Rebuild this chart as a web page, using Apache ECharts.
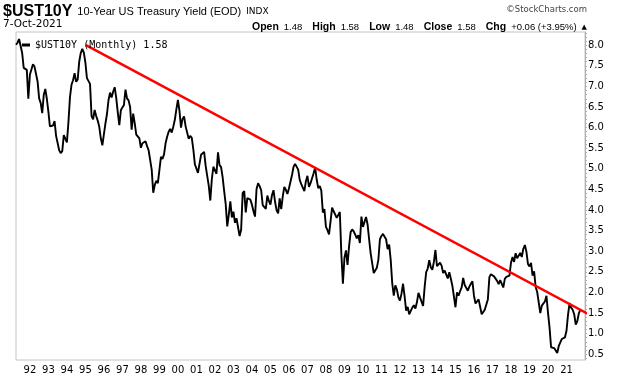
<!DOCTYPE html>
<html>
<head>
<meta charset="utf-8">
<script src="https://cdn.jsdelivr.net/npm/echarts@6/dist/echarts.min.js"></script>
<style>
  html, body { margin: 0; padding: 0; background: #fff; }
  #main { width: 620px; height: 376px; }
</style>
</head>
<body>
<div id="main"></div>
<script>
// monthly closes, 10-year yield, Apr 1991 .. Oct 2021
var startYear = 1991, startMonth = 4;
var y1991 = [8.01, 8.06, 8.15, 8.14, 7.81, 7.45, 7.46, 7.40, 6.70];
var y1992_1995 = [
    7.28, 7.26, 7.54, 7.48, 7.30, 7.12, 6.71, 6.60, 6.35, 6.79, 6.94, 6.70,
    6.39, 6.03, 6.03, 6.05, 6.16, 5.80, 5.81, 5.45, 5.38, 5.43, 5.82, 5.79,
    5.64, 6.13, 6.74, 7.04, 7.15, 7.32, 7.11, 7.17, 7.60, 7.81, 7.91, 7.82,
    7.58, 7.20, 7.20, 7.06, 6.28, 6.20, 6.43, 6.28, 6.17, 6.02, 5.74, 5.57
];
var y1996_1999 = [
    5.58, 6.10, 6.33, 6.67, 6.85, 6.73, 6.87, 6.98, 6.72, 6.37, 6.06, 6.42,
    6.49, 6.55, 6.92, 6.71, 6.66, 6.50, 5.95, 6.34, 6.10, 5.83, 5.87, 5.74,
    5.51, 5.62, 5.65, 5.67, 5.55, 5.45, 5.49, 4.98, 4.42, 4.61, 4.71, 4.65,
    4.65, 5.29, 5.24, 5.35, 5.62, 5.78, 5.90, 5.97, 5.88, 6.02, 6.19, 6.44
];
var y2000_2004 = [
    6.67, 6.41, 6.00, 6.21, 6.27, 6.03, 6.03, 5.73, 5.80, 5.75, 5.47, 5.11,
    5.11, 4.90, 4.92, 5.34, 5.38, 5.41, 5.07, 4.83, 4.59, 4.23, 4.75, 5.05,
    5.03, 4.88, 5.40, 5.09, 5.04, 4.80, 4.46, 4.14, 3.60, 3.89, 4.21, 3.82,
    3.96, 3.69, 3.80, 3.84, 3.37, 3.52, 4.41, 4.46, 3.94, 4.29, 4.33, 4.25,
    4.13, 3.97, 3.84, 4.51, 4.65, 4.58, 4.48, 4.12, 4.12, 4.03, 4.35, 4.22
];
var y2005_2009 = [
    4.13, 4.36, 4.48, 4.20, 3.99, 3.92, 4.28, 4.02, 4.33, 4.56, 4.49, 4.39,
    4.52, 4.55, 4.85, 5.05, 5.12, 5.14, 4.98, 4.73, 4.63, 4.60, 4.46, 4.70,
    4.83, 4.56, 4.65, 4.63, 4.89, 5.03, 4.74, 4.53, 4.58, 4.47, 3.94, 4.02,
    3.59, 3.51, 3.41, 3.73, 4.06, 3.97, 3.95, 3.81, 3.83, 3.95, 2.93, 2.21,
    2.84, 3.02, 2.67, 3.12, 3.46, 3.53, 3.48, 3.40, 3.31, 3.39, 3.20, 3.84
];
var y2010_2014 = [
    3.59, 3.61, 3.83, 3.65, 3.29, 2.95, 2.91, 2.47, 2.51, 2.60, 2.79, 3.29,
    3.37, 3.42, 3.45, 3.29, 3.05, 3.16, 2.79, 2.22, 1.92, 2.17, 2.07, 1.88,
    1.80, 1.97, 2.21, 1.91, 1.56, 1.65, 1.47, 1.55, 1.63, 1.69, 1.61, 1.76,
    1.99, 1.88, 1.85, 1.67, 2.13, 2.49, 2.58, 2.78, 2.61, 2.55, 2.74, 3.03,
    2.64, 2.65, 2.72, 2.65, 2.47, 2.53, 2.56, 2.34, 2.49, 2.33, 2.16, 2.17
];
var y2015_2019 = [
    1.64, 2.00, 1.92, 2.03, 2.12, 2.35, 2.18, 2.21, 2.04, 2.14, 2.21, 2.27,
    1.92, 1.73, 1.77, 1.83, 1.85, 1.47, 1.45, 1.58, 1.59, 1.83, 2.37, 2.44,
    2.45, 2.39, 2.39, 2.28, 2.20, 2.30, 2.29, 2.12, 2.33, 2.38, 2.41, 2.41,
    2.72, 2.86, 2.74, 2.95, 2.83, 2.85, 2.96, 2.86, 3.06, 3.15, 2.99, 2.69,
    2.63, 2.72, 2.41, 2.51, 2.13, 2.01, 2.02, 1.50, 1.68, 1.69, 1.78, 1.92
];
var y2020_2021 = [
    1.51, 1.15, 0.67, 0.64, 0.65, 0.66, 0.53, 0.70, 0.68, 0.87, 0.84, 0.91,
    1.07, 1.46, 1.74, 1.63, 1.58, 1.47, 1.22, 1.30, 1.49, 1.58
];

// red trend line end points (year, yield)
var trendYears = [1995.03, 2022.28];
var trendValues = [8.0, 1.45];

var yearLabels = [];
for (var yr = 1992; yr <= 2021; yr++) yearLabels.push(yr);
var yLabels = [];
for (var k = 1; k <= 16; k++) yLabels.push(k * 0.5);
var yMinor = [];
for (var k = 4; k <= 83; k++) yMinor.push(k / 10);

var allValues = [].concat(y1991, y1992_1995, y1996_1999, y2000_2004,
    y2005_2009, y2010_2014, y2015_2019, y2020_2021);
var lineData = [];
for (var i = 0; i < allValues.length; i++) {
    var m = startMonth - 1 + i;
    lineData.push([startYear + m / 12, allValues[i]]);
}
var lastVal = allValues[allValues.length - 1];

var myChart = echarts.init(document.getElementById('main'));
var option = {
    animation: false,
    backgroundColor: '#fff',
    title: [{
        left: 3, top: 3, padding: 0,
        text: '{a|$UST10Y} {b|10-Year US Treasury Yield (EOD)} {c|INDX}',
        textStyle: {
            rich: {
                a: { fontFamily: '"Liberation Sans", Arial', fontWeight: 'bold', fontSize: 16, lineHeight: 18, color: '#000' },
                b: { fontFamily: '"Liberation Sans", Arial', fontWeight: 'normal', fontSize: 11, lineHeight: 18, color: '#000' },
                c: { fontFamily: '"DejaVu Sans"', fontWeight: 'normal', fontSize: 9, lineHeight: 18, color: '#000' }
            }
        }
    }, {
        left: 3, top: 18, padding: 0,
        text: '7-Oct-2021',
        textStyle: { fontFamily: '"DejaVu Sans"', fontSize: 10.5, lineHeight: 12, fontWeight: 'normal', color: '#000' }
    }, {
        right: 33, top: 5, padding: 0,
        text: '\u00a9StockCharts.com',
        textStyle: { fontFamily: '"DejaVu Sans"', fontSize: 8.5, lineHeight: 10, fontWeight: 'normal', color: '#444' }
    }, {
        right: 33, top: 18, padding: 0,
        text: '{k|Open} {v|1.48}  {k|High} {v|1.58}  {k|Low} {v|1.48}  {k|Close} {v|1.58}  {k|Chg} {v|+0.06 (+3.95%)} {t|\u25b2}',
        textStyle: {
            rich: {
                k: { fontFamily: '"Liberation Sans"', fontWeight: 'bold', fontSize: 10.5, lineHeight: 12, color: '#000' },
                v: { fontFamily: '"Liberation Sans"', fontWeight: 'normal', fontSize: 9.5, lineHeight: 12, color: '#000' },
                t: { fontFamily: '"DejaVu Sans"', fontWeight: 'normal', fontSize: 7, lineHeight: 12, color: '#000' }
            }
        }
    }],
    legend: {
        left: 17, top: 35,
        itemWidth: 8, itemHeight: 3, itemGap: 4,
        data: [{ name: '$UST10Y', icon: 'rect' }],
        formatter: function(name) {
            return name + ' (Monthly) ' + lastVal.toFixed(2);
        },
        textStyle: { fontFamily: '"DejaVu Sans Mono"', fontSize: 10, color: '#000' },
        selectedMode: false
    },
    grid: {
        left: 16, right: 35, top: 32, bottom: 16,
        show: true, borderColor: '#c4c4c4', borderWidth: 1
    },
    xAxis: {
        type: 'value',
        min: 1991.25, max: 2022.0,
        axisLine: { show: false },
        axisTick: { show: false },
        splitLine: { show: false },
        axisLabel: {
            customValues: yearLabels,
            formatter: function(v) { return String(Math.round(v)).slice(2); },
            fontFamily: '"DejaVu Sans"', fontSize: 10, color: '#000', margin: 5
        }
    },
    yAxis: {
        type: 'value',
        position: 'right',
        min: 0.36, max: 8.32,
        axisLine: { show: true, lineStyle: { color: '#b0b0b0', width: 1 } },
        axisTick: { show: true, customValues: yMinor, length: 2, lineStyle: { color: '#b0b0b0' } },
        splitLine: { show: false },
        axisLabel: {
            customValues: yLabels,
            formatter: function(v) { return v.toFixed(1); },
            fontFamily: '"DejaVu Sans"', fontSize: 10, color: '#000', margin: 3
        }
    },
    series: [{
        name: '$UST10Y',
        type: 'line',
        data: lineData,
        showSymbol: false,
        color: '#000',
        lineStyle: { color: '#000', width: 1.9 }
    }, {
        name: 'trend',
        type: 'line',
        data: [[trendYears[0], trendValues[0]], [trendYears[1], trendValues[1]]],
        showSymbol: false,
        clip: false,
        color: '#ff0000',
        lineStyle: { color: '#ff0000', width: 2.5 }
    }]
};
myChart.setOption(option);
</script>
</body>
</html>
